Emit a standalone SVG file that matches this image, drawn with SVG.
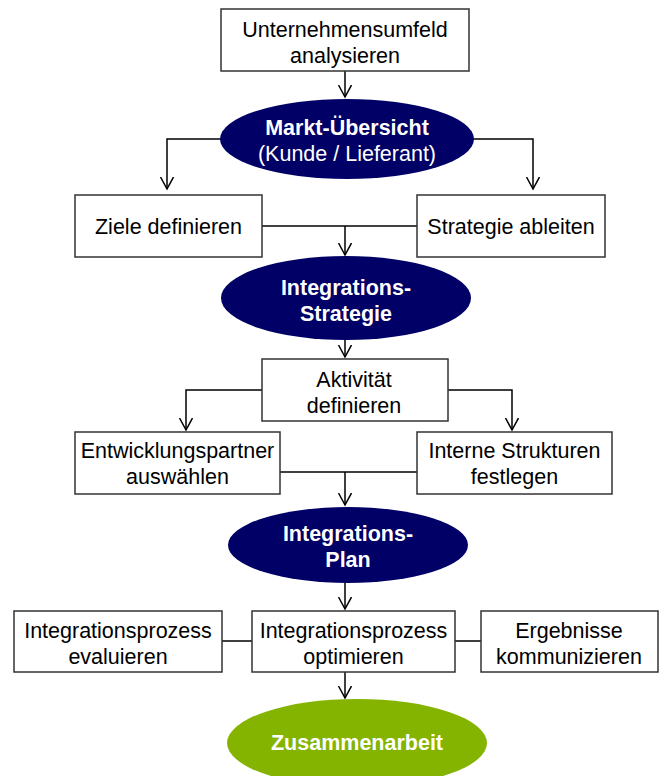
<svg xmlns="http://www.w3.org/2000/svg" width="659" height="776" viewBox="0 0 659 776">
<defs>
<style>
.box{fill:#fff;stroke:#333;stroke-width:1.5}
.navy{fill:#000066}
.green{fill:#84b400}
.t{font-family:"Liberation Sans",Arial,sans-serif;font-size:21.5px;fill:#000;text-anchor:middle}
.w{font-family:"Liberation Sans",Arial,sans-serif;font-size:21.5px;fill:#fff;text-anchor:middle}
.b{font-weight:bold}
.ln{fill:none;stroke:#000;stroke-width:1.5}
</style>
<marker id="arr" markerWidth="14" markerHeight="16" refX="12" refY="7" orient="auto" markerUnits="userSpaceOnUse">
<path d="M0,0.5 L12,7 L0,13.5" fill="none" stroke="#000" stroke-width="1.5"/>
</marker>
</defs>
<rect width="659" height="776" fill="#fff"/>
<g id="connectors">
<path class="ln" d="M345,71 V97" marker-end="url(#arr)"/>
<path class="ln" d="M225,139 H167 V189" marker-end="url(#arr)"/>
<path class="ln" d="M468,139 H533 V189" marker-end="url(#arr)"/>
<path class="ln" d="M262,226 H417"/>
<path class="ln" d="M345,226 V255" marker-end="url(#arr)"/>
<path class="ln" d="M345,338 V357" marker-end="url(#arr)"/>
<path class="ln" d="M262,390 H186 V430" marker-end="url(#arr)"/>
<path class="ln" d="M448,390 H512 V430" marker-end="url(#arr)"/>
<path class="ln" d="M280,472 H417"/>
<path class="ln" d="M345,472 V505" marker-end="url(#arr)"/>
<path class="ln" d="M345,582 V609" marker-end="url(#arr)"/>
<path class="ln" d="M222,641 H252"/>
<path class="ln" d="M455,641 H481"/>
<path class="ln" d="M345,672 V698" marker-end="url(#arr)"/>
</g>
<g id="n1"><rect class="box" x="221" y="9" width="248" height="62"/><text class="t" x="345" y="37">Unternehmensumfeld</text><text class="t" x="345" y="63">analysieren</text></g>
<g id="n2"><ellipse class="navy" cx="347" cy="139" rx="127" ry="40"/><text class="w b" x="347" y="135">Markt-Übersicht</text><text class="w" x="347" y="161">(Kunde / Lieferant)</text></g>
<g id="n3"><rect class="box" x="75" y="195" width="187" height="62"/><text class="t" x="168.5" y="234">Ziele definieren</text></g>
<g id="n4"><rect class="box" x="417" y="195" width="188" height="62"/><text class="t" x="511" y="234">Strategie ableiten</text></g>
<g id="n5"><ellipse class="navy" cx="346" cy="298" rx="125" ry="42"/><text class="w b" x="346" y="295">Integrations-</text><text class="w b" x="346" y="321">Strategie</text></g>
<g id="n6"><rect class="box" x="262" y="359" width="186" height="62"/><text class="t" x="354" y="387">Aktivität</text><text class="t" x="354" y="413">definieren</text></g>
<g id="n7"><rect class="box" x="75" y="432" width="205" height="62"/><text class="t" x="177.5" y="458">Entwicklungspartner</text><text class="t" x="177.5" y="484">auswählen</text></g>
<g id="n8"><rect class="box" x="417" y="432" width="195" height="62"/><text class="t" x="514.5" y="458">Interne Strukturen</text><text class="t" x="514.5" y="484">festlegen</text></g>
<g id="n9"><ellipse class="navy" cx="348" cy="545" rx="120" ry="38"/><text class="w b" x="348" y="541">Integrations-</text><text class="w b" x="348" y="567">Plan</text></g>
<g id="n10"><rect class="box" x="14" y="611" width="208" height="61"/><text class="t" x="118" y="638">Integrationsprozess</text><text class="t" x="118" y="664">evaluieren</text></g>
<g id="n11"><rect class="box" x="252" y="611" width="203" height="61"/><text class="t" x="353.5" y="638">Integrationsprozess</text><text class="t" x="353.5" y="664">optimieren</text></g>
<g id="n12"><rect class="box" x="481" y="611" width="177" height="61"/><text class="t" x="569" y="638">Ergebnisse</text><text class="t" x="569" y="664">kommunizieren</text></g>
<g id="n13"><ellipse class="green" cx="357" cy="743" rx="130" ry="44"/><text class="w b" x="357" y="750">Zusammenarbeit</text></g>
</svg>
